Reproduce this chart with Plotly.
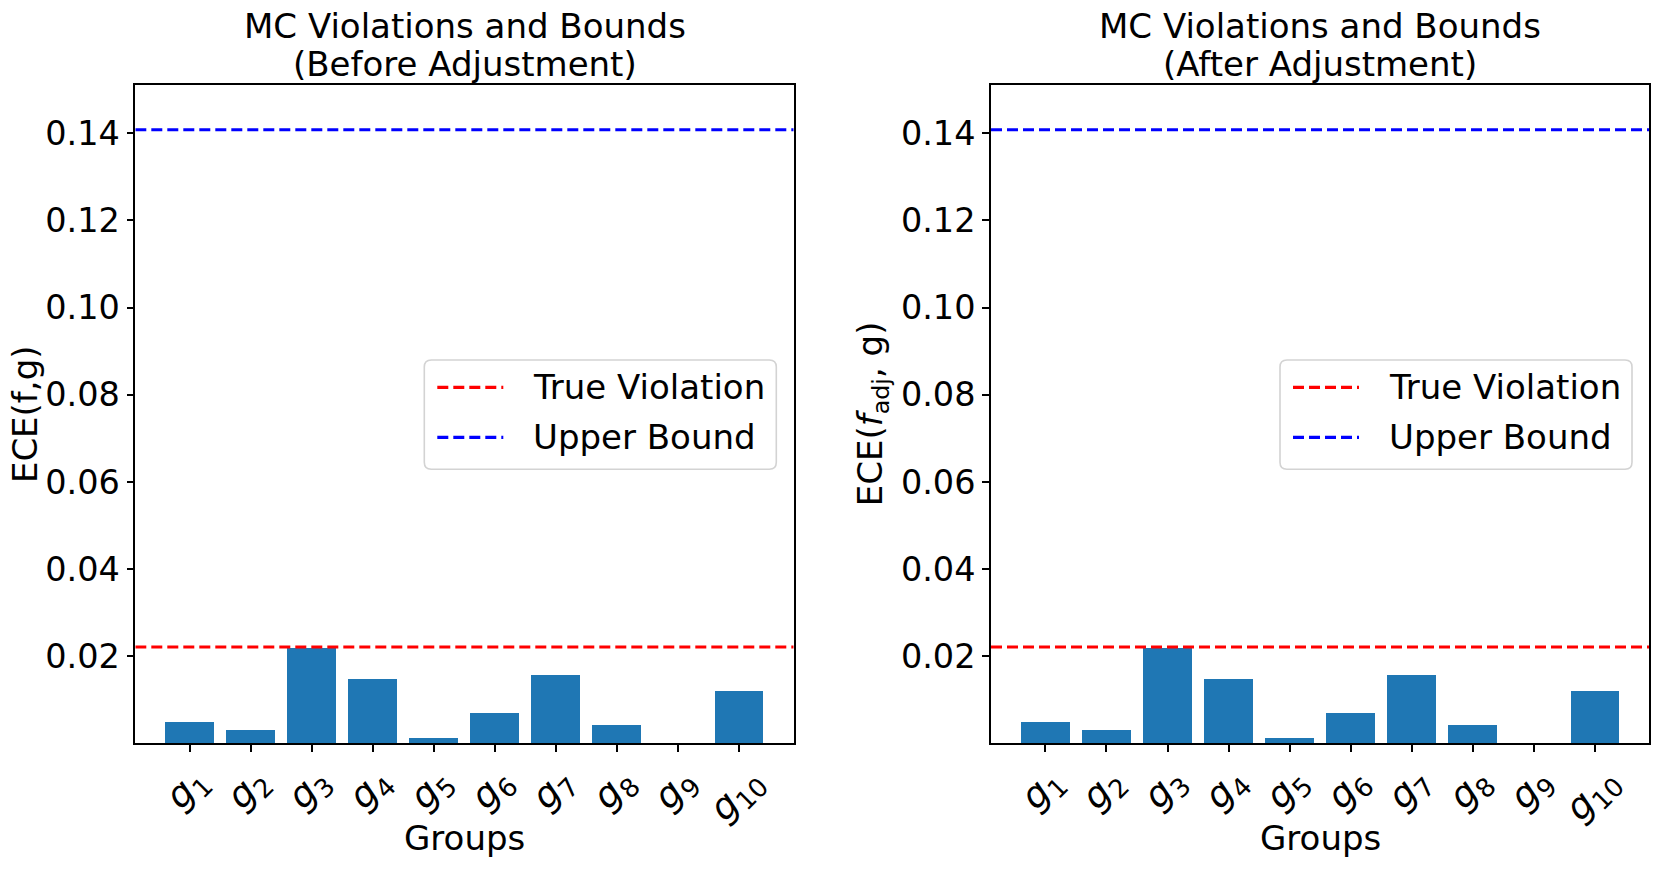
import plotly.graph_objects as go

# ---------------- data ----------------
groups = ["g1", "g2", "g3", "g4", "g5", "g6", "g7", "g8", "g9", "g10"]
group_sub = ["1", "2", "3", "4", "5", "6", "7", "8", "9", "10"]
ece_before = [0.0048, 0.0030, 0.0219, 0.0148, 0.0012, 0.0070, 0.0155, 0.0042, 0.0, 0.0119]
ece_after = [0.0048, 0.0030, 0.0219, 0.0148, 0.0012, 0.0070, 0.0155, 0.0042, 0.0, 0.0119]
true_violation = 0.0221
upper_bound = 0.1408
y_ticks = [0.02, 0.04, 0.06, 0.08, 0.10, 0.12, 0.14]
y_tick_labels = ["0.02", "0.04", "0.06", "0.08", "0.10", "0.12", "0.14"]
titles = ["MC Violations and Bounds", "MC Violations and Bounds"]
subtitles = ["(Before Adjustment)", "(After Adjustment)"]
y_labels = ["ECE(f,g)", "ECE(<i>f</i><sub>adj</sub>, g)"]
x_label = "Groups"
legend_names = ["True Violation", "Upper Bound"]
legend_colors = ["red", "blue"]

# ---------------- layout helpers ----------------
OFF = 0  # body margin removed via post_script
W, H = 1661, 869
FONT = "DejaVu Sans"
FS = 34
TFS = 33.5
GFS = 37
BAR_COLOR = "#1f77b4"


def px(x):
    return (x - OFF) / W


def py(y):
    return 1 - (y - OFF) / H


XR = [-0.89, 9.89]
YR = [0, 0.151]
ax_left = [135.3, 991.0]
ax_w = 658.4
ax_top, ax_bot = 85.3, 743.3
ylab_x = [24.8, 872.0]

fig = go.Figure()
xs = list(range(len(groups)))

for k, vals in enumerate([ece_before, ece_after]):
    xa = "x" if k == 0 else "x2"
    ya = "y" if k == 0 else "y2"
    fig.add_trace(go.Bar(x=xs, y=vals, width=0.8, marker=dict(color=BAR_COLOR, line=dict(width=0)),
                         xaxis=xa, yaxis=ya, showlegend=False))
    fig.add_trace(go.Scatter(x=XR, y=[true_violation, true_violation], mode="lines",
                             line=dict(color="red", width=3.2, dash="11px,5px"),
                             name=legend_names[0], xaxis=xa, yaxis=ya, showlegend=False))
    fig.add_trace(go.Scatter(x=XR, y=[upper_bound, upper_bound], mode="lines",
                             line=dict(color="blue", width=3.2, dash="11px,5px"),
                             name=legend_names[1], xaxis=xa, yaxis=ya, showlegend=False))

axis_common = dict(showline=True, mirror=True, linecolor="black", linewidth=1.6,
                   ticks="outside", ticklen=7, tickwidth=1.6, tickcolor="black",
                   showgrid=False, zeroline=False)

layout = dict(width=W, height=H, autosize=False, margin=dict(l=0, r=0, t=0, b=0),
              paper_bgcolor="white", plot_bgcolor="white", showlegend=False,
              font=dict(family=FONT, size=FS, color="black"), bargap=0)

annotations = []
shapes = []


def rounded_rect(x0, y0, x1, y1, r):
    rx = r / W
    ry = r / H
    a, b, c, d = px(x0), py(y1), px(x1), py(y0)  # left, bottom, right, top in paper
    return (f"M{a + rx},{b} L{c - rx},{b} Q{c},{b} {c},{b + ry} "
            f"L{c},{d - ry} Q{c},{d} {c - rx},{d} L{a + rx},{d} Q{a},{d} {a},{d - ry} "
            f"L{a},{b + ry} Q{a},{b} {a + rx},{b} Z")


for k in range(2):
    sfx = "" if k == 0 else "2"
    l = ax_left[k]
    r = l + ax_w
    layout["xaxis" + sfx] = dict(domain=[px(l), px(r)], range=XR, tickvals=xs,
                                 showticklabels=False, anchor="y" + sfx, **axis_common)
    layout["yaxis" + sfx] = dict(domain=[py(ax_bot), py(ax_top)], range=YR, tickvals=y_ticks,
                                 ticktext=y_tick_labels, tickfont=dict(size=TFS),
                                 anchor="x" + sfx, **axis_common)
    cx = l + ax_w / 2
    annotations.append(dict(text=titles[k], x=px(cx), y=py(25.5), xref="paper", yref="paper",
                            xanchor="center", yanchor="middle", showarrow=False, font=dict(size=FS)))
    annotations.append(dict(text=subtitles[k], x=px(cx), y=py(63.6), xref="paper", yref="paper",
                            xanchor="center", yanchor="middle", showarrow=False, font=dict(size=FS)))
    annotations.append(dict(text=x_label, x=px(cx), y=py(838.4), xref="paper", yref="paper",
                            xanchor="center", yanchor="middle", showarrow=False, font=dict(size=FS)))
    annotations.append(dict(text=y_labels[k], x=px(ylab_x[k]), y=py((ax_top + ax_bot) / 2),
                            xref="paper", yref="paper", textangle=-90,
                            xanchor="center", yanchor="middle", showarrow=False, font=dict(size=FS)))
    for i, s in enumerate(group_sub):
        annotations.append(dict(text="<i>g</i><sub>%s</sub>" % s, x=i, xref="x" + sfx,
                                y=py(756), yref="paper", textangle=-45, xshift=-2,
                                xanchor="center", yanchor="top", showarrow=False, font=dict(size=GFS)))
    # legend (drawn manually to match box geometry)
    bx0, bx1 = r - 369.4, r - 17.4
    by0, by1 = 360.0, 469.3
    shapes.append(dict(type="path", path=rounded_rect(bx0, by0, bx1, by1, 7), xref="paper", yref="paper",
                       fillcolor="rgba(255,255,255,0.8)", line=dict(color="#d3d3d3", width=1.6), layer="above"))
    for j, (nm, col) in enumerate(zip(legend_names, legend_colors)):
        yy = 387.3 + 50.0 * j
        shapes.append(dict(type="line", x0=px(bx0 + 13), x1=px(bx0 + 79), y0=py(yy), y1=py(yy),
                           xref="paper", yref="paper", line=dict(color=col, width=3.2, dash="11px,5px"),
                           layer="above"))
        annotations.append(dict(text=nm, x=px(bx0 + 107), y=py(yy), xref="paper", yref="paper",
                                xanchor="left", yanchor="middle", showarrow=False, font=dict(size=FS)))

layout["annotations"] = annotations
layout["shapes"] = shapes
fig.update_layout(**layout)
fig.write_html("out.html", config={"displayModeBar": False},
               post_script="document.body.style.margin='0px';document.body.style.overflow='hidden';")
